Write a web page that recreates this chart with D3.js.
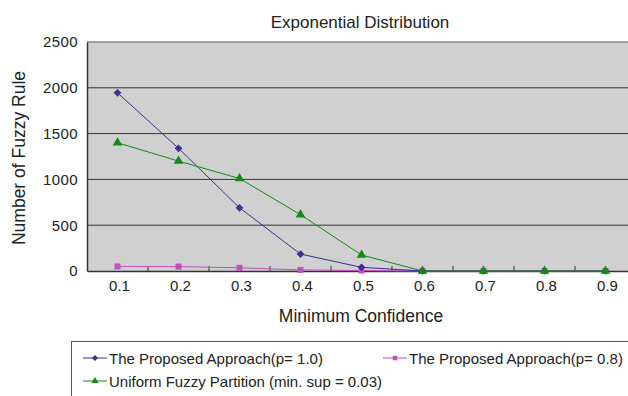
<!DOCTYPE html>
<html><head><meta charset="utf-8">
<script src="https://cdn.jsdelivr.net/npm/d3@7"></script>
<style>body{margin:0;background:#fff}svg{display:block;font-family:"Liberation Sans",Arial,sans-serif}</style>
</head><body><svg id="c" width="628" height="396"></svg>
<script>
const categories = ["0.1","0.2","0.3","0.4","0.5","0.6","0.7","0.8","0.9"];
const yTicks = [0,500,1000,1500,2000,2500];
const proposed10 = [1945,1340,690,185,40,0,0,0,0];
const proposed08 = [50,48,35,12,5,0,0,0,0];
const uniform = [1400,1200,1010,615,175,0,0,0,0];
const seriesNames = ["The Proposed Approach(p= 1.0)","The Proposed Approach(p= 0.8)","Uniform Fuzzy Partition (min. sup = 0.03)"];

const svg = d3.select("#c");
const L = 87, T = 42, B = 271, bw = 61;
const x = d3.scaleBand().domain(categories).range([L, L + bw*categories.length]);
const y = d3.scaleLinear().domain([0,2500]).range([B, T]);

svg.append("rect").attr("x",L).attr("y",T).attr("width",x.range()[1]-L).attr("height",B-T).attr("fill","#d0d0d0");
svg.append("g").selectAll("line").data(yTicks.slice(1,-1)).join("line")
  .attr("x1",L).attr("x2",x.range()[1]).attr("y1",d=>y(d)).attr("y2",d=>y(d))
  .attr("stroke","#333").attr("stroke-width",1);
svg.append("line").attr("x1",L).attr("x2",x.range()[1]).attr("y1",T).attr("y2",T).attr("stroke","#888").attr("stroke-width",1.5);

const ya = svg.append("g").attr("transform",`translate(${L},0)`)
  .call(d3.axisLeft(y).tickValues(yTicks).tickFormat(d3.format("d")).tickSize(0).tickPadding(9));
ya.select(".domain").attr("stroke","#333").attr("stroke-width",1.5);
ya.selectAll("text").attr("font-size",15).attr("fill","#222").attr("font-family","Liberation Sans, Arial").attr("letter-spacing",0.4);

const xa = svg.append("g").attr("transform",`translate(0,${B})`)
  .call(d3.axisBottom(x).tickSize(0).tickPadding(9.5));
xa.select(".domain").attr("stroke","#333").attr("stroke-width",1.5);
xa.selectAll("text").attr("font-size",15).attr("fill","#222").attr("font-family","Liberation Sans, Arial").attr("dx",2);
svg.append("g").selectAll("line").data(categories).join("line")
  .attr("x1",d=>x(d)+bw).attr("x2",d=>x(d)+bw).attr("y1",B-5).attr("y2",B+1).attr("stroke","#333");

const cx = d => x(d)+bw/2;
const diamond = {draw(ctx,size){const r=Math.sqrt(size/2);ctx.moveTo(0,-r);ctx.lineTo(r,0);ctx.lineTo(0,r);ctx.lineTo(-r,0);ctx.closePath();}};
const series = [
  {vals: proposed08, color:"#c050c0", sym:d3.symbolSquare, size:36},
  {vals: proposed10, color:"#3a2f94", sym:diamond, size:30},
  {vals: uniform, color:"#138a13", sym:d3.symbolTriangle, size:40}
];
series.forEach(s=>{
  const line = d3.line().x((d,i)=>cx(categories[i])).y(d=>y(d));
  svg.append("path").attr("d",line(s.vals)).attr("fill","none").attr("stroke",s.color).attr("stroke-width",1);
  svg.append("g").selectAll("path").data(s.vals).join("path")
    .attr("transform",(d,i)=>`translate(${cx(categories[i])},${y(d)})`)
    .attr("d",d3.symbol(s.sym,s.size)).attr("fill",s.color);
});

svg.append("text").attr("x",360).attr("y",28).attr("text-anchor","middle").attr("font-size",17).attr("fill","#222").text("Exponential Distribution");
svg.append("text").attr("x",361).attr("y",322).attr("text-anchor","middle").attr("font-size",17.5).attr("fill","#222").text("Minimum Confidence");
svg.append("text").attr("transform","translate(25,158) rotate(-90)").attr("text-anchor","middle").attr("font-size",17.5).attr("fill","#222").text("Number of Fuzzy Rule");

svg.append("rect").attr("x",71.5).attr("y",341.5).attr("width",600).attr("height",80).attr("fill","#fff").attr("stroke","#555");
const leg = [
  {name:seriesNames[0], color:"#3a2f94", sym:diamond, size:18, lx:83, ly:358},
  {name:seriesNames[1], color:"#c050c0", sym:d3.symbolSquare, size:20, lx:383, ly:358},
  {name:seriesNames[2], color:"#138a13", sym:d3.symbolTriangle, size:22, lx:83, ly:381}
];
leg.forEach(l=>{
  svg.append("line").attr("x1",l.lx).attr("x2",l.lx+24).attr("y1",l.ly).attr("y2",l.ly).attr("stroke",l.color);
  svg.append("path").attr("transform",`translate(${l.lx+12},${l.ly})`).attr("d",d3.symbol(l.sym,l.size)).attr("fill",l.color);
  svg.append("text").attr("x",l.lx+26).attr("y",l.ly+5.5).attr("font-size",15).attr("fill","#222").text(l.name);
});
</script></body></html>
